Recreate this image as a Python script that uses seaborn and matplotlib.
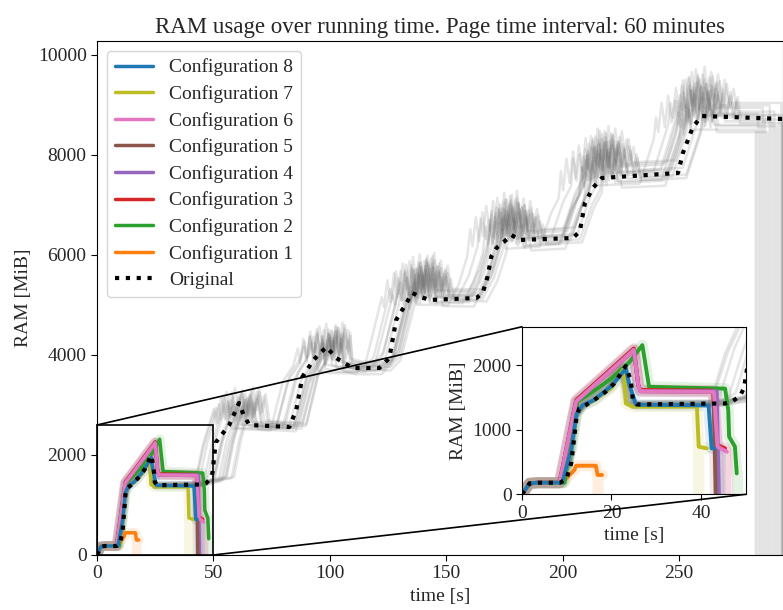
import numpy as np
import pandas as pd
import matplotlib
matplotlib.use("Agg")
import matplotlib.pyplot as plt
from matplotlib.lines import Line2D
from matplotlib.patches import ConnectionPatch
import seaborn as sns

# ---------------- data ----------------
# Original (mean, dotted)
orig_t = [0, 1.7, 3.6, 8.4, 9.9, 11, 11.7, 12.2, 12.8, 14.3, 16.1, 18.7, 20.6, 23.2, 24.3, 24.8, 25.8,
          45.4, 46.9, 48.7, 49.6, 51, 56.8, 61, 63, 65.4, 82.6, 85.6, 88.2, 93, 98.5, 102.8, 109.7,
          121.3, 125.6, 128.5, 130.7, 135.5, 138.5, 142.9, 163, 165.7, 167.8, 169.4, 171.6, 175, 178,
          181.6, 204.4, 207.4, 209.6, 213, 216.9, 249.6, 251.7, 256, 259.8, 294.7]
orig_y = [0, 170, 180, 180, 230, 480, 894, 1204, 1333, 1385, 1462, 1592, 1720, 1990, 1773, 1462, 1395,
          1410, 1437, 1525, 1643, 2250, 2600, 3040, 2800, 2600, 2560, 2900, 3560, 3900, 4160, 3940, 3740,
          3740, 3940, 4700, 4870, 5240, 5170, 5100, 5140, 5240, 5570, 5970, 6140, 6270, 6400,
          6300, 6340, 6470, 7040, 7340, 7540, 7640, 8040, 8560, 8780, 8720]

# representative single run of the original (with memory spikes)
run_t = [0, 1.7, 3.6, 8.4, 11, 12.2, 14.3, 18.7, 23.2, 24.8, 25.8, 45.4, 48.7, 52, 55, 57, 58, 59, 60.5,
         62, 63.5, 65.4, 82.6, 88.2, 93, 95, 96, 97.5, 99, 100.5, 102, 103, 104, 109.7, 121.3, 125.6,
         130.7, 133, 134, 135.5, 137, 138.5, 140, 141.5, 143, 144.5, 146, 147.5, 149, 163,
         167.8, 171.6, 173, 174, 175.5, 177, 178.5, 180, 181.5, 183, 184.5, 186, 187.5, 189, 204.4,
         209.6, 213, 214, 215, 216.5, 218, 219.5, 221, 222.5, 224, 225.5, 227, 228.5, 230, 249.6,
         256, 257, 258, 259.5, 261, 262.5, 264, 265.5, 267, 268.5, 270, 271.5, 273]
run_y = [0, 170, 180, 180, 480, 1204, 1385, 1592, 1990, 1462, 1395, 1410, 1525, 2250, 2700, 3000, 2700,
         2950, 3250, 2800, 3150, 2600, 2560, 3560, 3900, 4250, 3950, 4450, 4050, 4500, 4000, 4350, 3800,
         3740, 3740, 3940,
         4870, 5300, 5100, 5650, 5200, 5800, 5300, 5850, 5250, 5700, 5200, 5600, 5150, 5140,
         5570, 6140, 6700, 6350, 6950, 6450, 7050, 6500, 6900, 6400, 6850, 6350, 6700, 6300, 6340,
         7040, 7340, 7900, 7500, 8150, 7650, 8300, 7700, 8250, 7750, 8200, 7700, 8050, 7600, 7640,
         8560, 9000, 8700, 9300, 8800, 9450, 8900, 9350, 8850, 9300, 8850, 9200, 8750]
run_pace = [0.95, 0.93, 0.96, 0.92, 0.99, 0.95, 0.98, 0.97, 1.0, 1.0, 0.94, 0.96, 0.99, 0.97, 1.01]
run_shift = [-4, 10, 3, 14, -2, 7, 0, 5, 2, -6, 12, 9, 6, -3, 1]
run_level = [-250, 80, -150, 200, 0, -300, 250, -80, 120, -180, 60, 300, -120, 40, -40]
run_end = [283, 284, 285, 286, 287, 288, 289, 290, 291, 292, 293, 294, 294.3, 294.5, 294.6]

configs = ["Configuration 8", "Configuration 7", "Configuration 6", "Configuration 5",
           "Configuration 4", "Configuration 3", "Configuration 2", "Configuration 1"]
colors = ["#1f77b4", "#bcbd22", "#e377c2", "#8c564b", "#9467bd", "#d62728", "#2ca02c", "#ff7f0e"]

c8_t = [0, 1.7, 3.6, 9, 11, 12.2, 13.5, 16, 20, 23.2, 24, 25.5, 41.7, 42.4, 43]
c8_y = [0, 170, 180, 180, 700, 1250, 1380, 1460, 1680, 1950, 1700, 1390, 1380, 713, 713]
c7_t = [0, 1.7, 3.6, 9, 11, 12.2, 13.5, 16, 20, 22.8, 23.2, 24.7, 39.1, 39.5, 41.3]
c7_y = [0, 170, 180, 180, 700, 1250, 1380, 1450, 1650, 1953, 1411, 1360, 1360, 739, 713]
c6_t = [0, 1.7, 3.6, 8.4, 12.1, 25, 26, 26.5, 42.9, 43.7, 45.8]
c6_y = [0, 170, 180, 180, 1440, 2240, 1690, 1600, 1590, 740, 660]
c5_t = [0, 1.7, 3.6, 8.4, 12.1, 25, 26, 26.5, 42.8, 43.3]
c5_y = [0, 170, 180, 180, 1440, 2240, 1690, 1600, 1590, 0]
c4_t = [0, 1.7, 3.6, 8.4, 12.1, 25, 26, 26.5, 43.5, 44.0]
c4_y = [0, 170, 180, 180, 1440, 2240, 1690, 1600, 1600, 0]
c3_t = [0, 1.7, 3.6, 8.4, 12.1, 25, 26, 26.5, 42.4, 42.8, 43.6, 45.4]
c3_y = [0, 170, 180, 180, 1462, 2263, 1695, 1620, 1610, 1560, 765, 713]
c2_t = [0, 1.7, 3.6, 9.5, 12.4, 16, 20, 24, 26.9, 28.4, 45.4, 46.1, 46.3, 47.6, 48]
c2_y = [0, 170, 180, 180, 1437, 1600, 1800, 2050, 2315, 1669, 1640, 1307, 894, 739, 325]
c1_t = [0, 1.7, 3.6, 9, 11.7, 12.1, 16.5, 16.9, 17.9]
c1_y = [0, 170, 180, 180, 377, 444, 444, 300, 300]
cfg_t = [c8_t, c7_t, c6_t, c5_t, c4_t, c3_t, c2_t, c1_t]
cfg_y = [c8_y, c7_y, c6_y, c5_y, c4_y, c3_y, c2_y, c1_y]
cfg_end = [44.3, 39.5, 46.0, 43.3, 44.0, 45.5, 48.2, 17.0]  # faint runs drop to zero

# ---------------- build frames ----------------
rows = []
for i, (p, s, lv, e) in enumerate(zip(run_pace, run_shift, run_level, run_end)):
    ts = [t * p + (s if t > 46 else 0) for t in run_t]
    ys = [y + (lv * y / 9000.0) for y in run_y]
    keep = [(t, y) for t, y in zip(ts, ys) if t < e]
    ts = [k[0] for k in keep] + [e, e]
    ys = [k[1] for k in keep] + [keep[-1][1], 0]
    for t, y in zip(ts, ys):
        rows.append((i, t, y))
gray_df = pd.DataFrame(rows, columns=["run", "time", "ram"])
orig_df = pd.DataFrame({"time": orig_t, "ram": orig_y})

cfg_frames = []
faint_frames = []
for name, ts, ys, e in zip(configs, cfg_t, cfg_y, cfg_end):
    cfg_frames.append(pd.DataFrame({"time": ts, "ram": ys, "cfg": name}))
    ft = list(ts) + [e, e]
    fy = list(ys) + [ys[-1], 0]
    faint_frames.append(pd.DataFrame({"time": ft, "ram": fy, "cfg": name}))

# ---------------- plot ----------------
sns.set_style("ticks")
plt.rcParams["font.family"] = ["Liberation Serif", "DejaVu Serif"]
plt.rcParams["xtick.labelsize"] = 14
plt.rcParams["ytick.labelsize"] = 14
plt.rcParams["axes.labelsize"] = 14

fig = plt.figure(figsize=(7.83, 6.10), dpi=100)
ax = fig.add_axes([0.1239, 0.0902, 1.0 - 0.1239, 0.9328 - 0.0902])


def draw(a, lw_main, lw_faint):
    sns.lineplot(data=gray_df, x="time", y="ram", units="run", estimator=None, sort=False,
                 color="#6a6a6a", alpha=0.17, lw=1.8, ax=a, legend=False)
    for k in range(len(configs) - 1, -1, -1):
        sns.lineplot(data=faint_frames[k], x="time", y="ram", sort=False, estimator=None,
                     color=colors[k], alpha=0.13, lw=lw_faint, ax=a, legend=False)
    for k in range(len(configs) - 1, -1, -1):
        sns.lineplot(data=cfg_frames[k], x="time", y="ram", sort=False, estimator=None,
                     color=colors[k], lw=lw_main, ax=a, legend=False)
    sns.lineplot(data=orig_df, x="time", y="ram", sort=False, estimator=None,
                 color="black", lw=3, linestyle=(0, (1, 1.6)), ax=a, legend=False)


draw(ax, 2.5, 7)
ax.set_xlim(0, 294.7)
ax.set_ylim(0, 10280)
ax.set_xticks([0, 50, 100, 150, 200, 250])
ax.set_yticks([0, 2000, 4000, 6000, 8000, 10000])
ax.set_xlabel("time [s]")
ax.set_ylabel("RAM [MiB]")
ax.set_title("RAM usage over running time. Page time interval: 60 minutes", fontsize=16.5)

handles = [Line2D([], [], color=c, lw=2.5) for c in colors]
handles.append(Line2D([], [], color="black", lw=3, linestyle=(0, (1, 1.6))))
labels = configs + ["Original"]
leg = ax.legend(handles, labels, loc="upper left", fontsize=14, frameon=True,
                borderaxespad=0.5, labelspacing=0.45)
leg.get_frame().set_edgecolor("#cccccc")

axins = ax.inset_axes([0.6195, 0.118, 0.3261, 0.326])
axins.set_facecolor("white")
draw(axins, 2.8, 8)
axins.set_xlim(0, 50)
axins.set_ylim(0, 2600)
axins.set_xticks([0, 20, 40])
axins.set_yticks([0, 1000, 2000])
axins.set_xlabel("time [s]")
axins.set_ylabel("RAM [MiB]")
for s in axins.spines.values():
    s.set_color("black")
for s in ax.spines.values():
    s.set_color("black")
ax.tick_params(color="black", length=4)
axins.tick_params(color="black", length=4)
ind = ax.indicate_inset_zoom(axins, edgecolor="black", alpha=1, lw=1.2)
try:
    for c in ind.connectors:
        c.set_visible(False)
except Exception:
    pass

for xa, xb in [((0, 2600), (0, 1)), ((50, 0), (1, 0))]:
    con = ConnectionPatch(xyA=xa, coordsA="data", axesA=ax, xyB=xb, coordsB="axes fraction",
                          axesB=axins, color="black", lw=1.2, zorder=6)
    fig.add_artist(con)

fig.savefig("out.png", dpi=100)
